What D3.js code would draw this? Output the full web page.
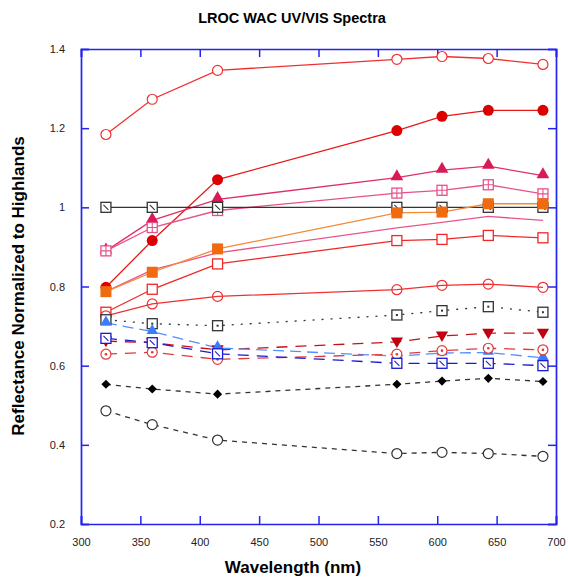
<!DOCTYPE html>
<html>
<head>
<meta charset="utf-8">
<script src="https://cdn.jsdelivr.net/npm/d3@7"></script>
<style>
  body { margin: 0; background: #fff; }
  text { font-family: "Liberation Sans", Arial, sans-serif; }
</style>
</head>
<body>
<div id="chart"></div>
<script>
const w = 568;
const h = 577;

// WAC band centres (nm)
const wavelengths = [321, 360, 415, 566, 604, 643, 689];

const xTicks = [300, 350, 400, 450, 500, 550, 600, 650, 700];
const yTicks = [0.2, 0.4, 0.6, 0.8, 1, 1.2, 1.4];

// one array per spectrum
const redOpenCircle   = [1.184, 1.273, 1.346, 1.374, 1.381, 1.376, 1.361];
const redFilledCircle = [0.798, 0.916, 1.070, 1.194, 1.230, 1.245, 1.245];
const crimsonTriangle = [0.890, 0.967, 1.020, 1.075, 1.094, 1.104, 1.080];
const pinkGridSquare  = [0.890, 0.949, 0.992, 1.036, 1.043, 1.057, 1.034];
const highlands       = [1, 1, 1, 1, 1, 1, 1];
const orangeSquare    = [0.787, 0.836, 0.895, 0.986, 0.988, 1.009, 1.009];
const pinkPlain       = [0.787, 0.842, 0.885, 0.948, 0.962, 0.977, 0.967];
const redOpenSquare   = [0.735, 0.793, 0.857, 0.916, 0.919, 0.929, 0.923];
const redRing         = [0.726, 0.756, 0.775, 0.792, 0.803, 0.806, 0.798];
const blackDotSquare  = [0.716, 0.706, 0.701, 0.728, 0.739, 0.749, 0.735];
const darkRedTriangle = [0.662, 0.658, 0.640, 0.660, 0.675, 0.682, 0.682];
const lightBlueTri    = [0.708, 0.686, 0.645, 0.624, 0.632, 0.633, 0.620];
const redDotCircle    = [0.629, 0.634, 0.616, 0.629, 0.638, 0.644, 0.640];
const blueSlashSquare = [0.669, 0.658, 0.630, 0.606, 0.606, 0.606, 0.600];
const blackDiamond    = [0.553, 0.541, 0.528, 0.553, 0.561, 0.568, 0.560];
const blackOpenCircle = [0.486, 0.451, 0.412, 0.378, 0.381, 0.378, 0.371];

// drawing order: later ones sit on top
var series = [
    {values: pinkPlain, color: "#e8558c", marker: "none", dash: null},
    {values: redFilledCircle, color: "#e81818", fill: "#dd0000", marker: "circleFilled", dash: null},
    {values: crimsonTriangle, color: "#e0306a", fill: "#d81a55", marker: "triUp", dash: null},
    {values: pinkGridSquare, color: "#e8508a", marker: "gridSquare", dash: null},
    {values: highlands, color: "#333333", marker: "slashSquare", dash: null},
    {values: orangeSquare, color: "#f58a35", fill: "#f06a10", marker: "squareFilled", dash: null},
    {values: redOpenSquare, color: "#f02828", marker: "squareOpen", dash: null},
    {values: redRing, color: "#f03030", marker: "circleThin", dash: null},
    {values: redOpenCircle, color: "#f03030", marker: "circleOpen", dash: null},
    {values: blackDotSquare, color: "#333333", marker: "dotSquare", dash: "2,7"},
    {values: darkRedTriangle, color: "#c81018", fill: "#c00010", marker: "triDown", dash: "11,8"},
    {values: lightBlueTri, color: "#5090ff", fill: "#3a7cff", marker: "triUpSmall", dash: "11,6"},
    {values: redDotCircle, color: "#e03a3a", marker: "circleDot", dash: "11,8"},
    {values: blueSlashSquare, color: "#1a1ad0", marker: "slashSquareBlue", dash: "11,8"},
    {values: blackDiamond, color: "#333333", fill: "#000", marker: "diamond", dash: "5,5"},
    {values: blackOpenCircle, color: "#333333", marker: "circleOpenBlack", dash: "5,5"}
];

var margin = {top: 49, right: 12, bottom: 53, left: 81};

var svg = d3.select("#chart")
    .append("svg")
    .attr("width", w)
    .attr("height", h)

var x = d3.scaleLinear()
    .domain([300, 700])
    .range([margin.left, w - margin.right]);

var y = d3.scaleLinear()
    .domain([0.2, 1.4])
    .range([h - margin.bottom, margin.top]);

var frameColor = "#2424ee";

// title
svg.append("text")
    .attr("x", 292)
    .attr("y", 23)
    .attr("text-anchor", "middle")
    .style("font-size", "14.5px")
    .style("font-weight", "bold")
    .text("LROC WAC UV/VIS Spectra");

// axes, ticks pointing inwards like the original
var bottomAxis = svg.append("g")
    .attr("transform", "translate(0," + y(0.2) + ")")
    .call(d3.axisBottom(x).tickValues(xTicks).tickSize(-8).tickPadding(14).tickFormat(d3.format("d")));

var topAxis = svg.append("g")
    .attr("transform", "translate(0," + y(1.4) + ")")
    .call(d3.axisTop(x).tickValues(xTicks).tickSize(-8).tickFormat(""));

var leftAxis = svg.append("g")
    .attr("transform", "translate(" + x(300) + ",0)")
    .call(d3.axisLeft(y).tickValues(yTicks).tickSize(-8).tickPadding(16).tickFormat(function(d) {
        return d === 1 ? "1" : d3.format(".1f")(d);
    }));

var rightAxis = svg.append("g")
    .attr("transform", "translate(" + x(700) + ",0)")
    .call(d3.axisRight(y).tickValues(yTicks).tickSize(-8).tickFormat(""));

[bottomAxis, topAxis, leftAxis, rightAxis].forEach(function(g) {
    g.select(".domain").attr("stroke", frameColor).attr("stroke-width", 1.7);
    g.selectAll(".tick line").attr("stroke", frameColor).attr("stroke-width", 1.5);
    g.selectAll(".tick text")
        .attr("fill", "#222")
        .style("font-size", "11px")
        .style("font-family", "'Liberation Sans', Arial, sans-serif");
});

// axis titles
svg.append("text")
    .attr("x", 293)
    .attr("y", 573)
    .attr("text-anchor", "middle")
    .style("font-size", "17px")
    .style("font-weight", "bold")
    .text("Wavelength (nm)");

svg.append("text")
    .attr("transform", "translate(24," + 286 + ") rotate(-90)")
    .attr("text-anchor", "middle")
    .style("font-size", "17px")
    .style("font-weight", "bold")
    .text("Reflectance Normalized to Highlands");

var line = d3.line()
    .x(function(d, i) { return x(wavelengths[i]); })
    .y(function(d) { return y(d); });

var plot = svg.append("g");

// lines first, markers on top
series.forEach(function(s) {
    plot.append("path")
        .datum(s.values)
        .attr("d", line)
        .attr("fill", "none")
        .attr("stroke", s.color)
        .attr("stroke-width", 1.3)
        .attr("stroke-dasharray", s.dash);
});

function drawMarker(g, s, cx, cy) {
    var m = s.marker;
    var c = s.color;
    if (m === "none") return;
    if (m === "circleOpen" || m === "circleOpenBlack") {
        g.append("circle").attr("cx", cx).attr("cy", cy).attr("r", 5)
            .attr("fill", "#fff").attr("stroke", c).attr("stroke-width", 1.2);
    } else if (m === "circleThin") {
        g.append("circle").attr("cx", cx).attr("cy", cy).attr("r", 5)
            .attr("fill", "none").attr("stroke", c).attr("stroke-width", 1.2);
    } else if (m === "circleDot") {
        g.append("circle").attr("cx", cx).attr("cy", cy).attr("r", 5)
            .attr("fill", "#fff").attr("stroke", c).attr("stroke-width", 1.2);
        g.append("circle").attr("cx", cx).attr("cy", cy).attr("r", 1.3).attr("fill", c);
    } else if (m === "circleFilled") {
        g.append("circle").attr("cx", cx).attr("cy", cy).attr("r", 5.5).attr("fill", s.fill);
    } else if (m === "squareFilled") {
        g.append("rect").attr("x", cx - 5.5).attr("y", cy - 5.5).attr("width", 11).attr("height", 11)
            .attr("fill", s.fill);
    } else if (m === "squareOpen" || m === "gridSquare" || m === "slashSquare" ||
               m === "slashSquareBlue" || m === "dotSquare") {
        g.append("rect").attr("x", cx - 5).attr("y", cy - 5).attr("width", 10).attr("height", 10)
            .attr("fill", "#fff").attr("stroke", c).attr("stroke-width", 1.3);
        if (m === "gridSquare") {
            g.append("path")
                .attr("d", "M" + cx + "," + (cy - 5) + "V" + (cy + 5) + "M" + (cx - 5) + "," + cy + "H" + (cx + 5))
                .attr("stroke", c).attr("stroke-width", 1.1);
        } else if (m === "slashSquare" || m === "slashSquareBlue") {
            g.append("path")
                .attr("d", "M" + (cx - 2.5) + "," + (cy - 2.5) + "L" + (cx + 2.5) + "," + (cy + 2.5))
                .attr("stroke", c).attr("stroke-width", 1.1);
        } else if (m === "dotSquare") {
            g.append("rect").attr("x", cx - 1).attr("y", cy - 1).attr("width", 2).attr("height", 2)
                .attr("fill", c);
        }
    } else if (m === "triUp" || m === "triUpSmall") {
        g.append("path")
            .attr("transform", "translate(" + cx + "," + (cy - 1) + ")")
            .attr("d", d3.symbol(d3.symbolTriangle, m === "triUp" ? 70 : 55)())
            .attr("fill", s.fill);
    } else if (m === "triDown") {
        g.append("path")
            .attr("transform", "translate(" + cx + "," + (cy - 1) + ") rotate(180)")
            .attr("d", d3.symbol(d3.symbolTriangle, 65)())
            .attr("fill", s.fill);
    } else if (m === "diamond") {
        g.append("path")
            .attr("transform", "translate(" + cx + "," + cy + ") rotate(45)")
            .attr("d", d3.symbol(d3.symbolSquare, 42)())
            .attr("fill", s.fill);
    }
}

series.forEach(function(s) {
    var g = plot.append("g");
    s.values.forEach(function(v, i) {
        drawMarker(g, s, x(wavelengths[i]), y(v));
    });
});
</script>
</body>
</html>
